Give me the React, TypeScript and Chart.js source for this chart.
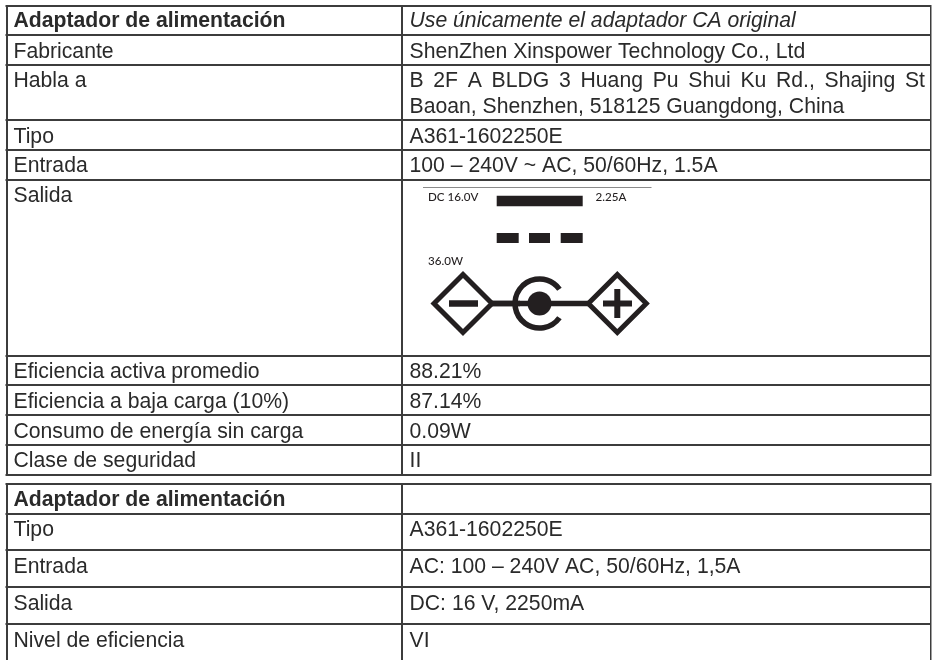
import React, { useEffect, useRef } from "react";
import { Chart, registerables } from "chart.js";

Chart.register(...registerables);

const columnEdges = [6.5, 402, 930.5];
const rowEdges = [6, 35, 65, 120, 150, 180, 356, 385, 415, 445, 475, 484, 514, 550, 587, 624];

const upperLabels = ["Fabricante", "Habla a", "Tipo", "Entrada", "Salida", "Eficiencia activa promedio", "Eficiencia a baja carga (10%)", "Consumo de energía sin carga", "Clase de seguridad"];
const upperValues = ["ShenZhen Xinspower Technology Co., Ltd", "B 2F A BLDG 3 Huang Pu Shui Ku Rd., Shajing St", "A361-1602250E", "100 – 240V ~ AC, 50/60Hz, 1.5A", "", "88.21%", "87.14%", "0.09W", "II"];
const upperBaselines = [58, 87, 143, 172, 202, 378, 408, 438, 467];

const lowerLabels = ["Tipo", "Entrada", "Salida", "Nivel de eficiencia"];
const lowerValues = ["A361-1602250E", "AC: 100 – 240V AC, 50/60Hz, 1,5A", "DC: 16 V, 2250mA", "VI"];
const lowerBaselines = [536, 573, 610, 647];

const titleLabel = "Adaptador de alimentación";
const titleNote = "Use únicamente el adaptador CA original";
const titleBaselines = [27, 506];
const addressSecondLine = "Baoan, Shenzhen, 518125 Guangdong, China";
const addressSecondBaseline = 113;

const ratingLabels = ["DC 16.0V", "2.25A", "36.0W"];
const ratingX = [428, 595.5, 428];
const ratingY = [201, 201, 265];

const INK = "#231f20";
const TEXT = "#2a2a2a";
const LINE = "#3c3c3c";

const seg = (x1: number, y1: number, x2: number, y2: number) => [{ x: x1, y: y1 }, { x: x2, y: y2 }];
const lineSet = (data: any[], width: number, color = INK) => ({
  type: "line" as const, data, borderColor: color, borderWidth: width,
  pointRadius: 0, showLine: true, fill: false, tension: 0, borderCapStyle: "butt" as const, order: 2,
});
const diamond = (x: number, y: number) => ({
  type: "scatter" as const, data: [{ x, y }], pointStyle: "rectRot" as const, pointRadius: 29,
  pointBackgroundColor: "#ffffff", pointBorderColor: INK, pointBorderWidth: 5, order: 1,
});

const ratingBar = seg(496.7, 201, 582.7, 201);
const ratingDashes = [seg(496.7, 238, 518.7, 238), seg(529, 238, 550, 238), seg(560.7, 238, 582.7, 238)];
const ratingRule = seg(423, 187.5, 651.5, 187.5);
const leadLine = seg(490, 303.5, 590, 303.5);
const leftLead = seg(490, 303.5, 520, 303.5);
const minusStroke = seg(449, 303.5, 478, 303.5);
const plusStrokes = [seg(603, 303.5, 632, 303.5), seg(617.3, 289, 617.3, 318)];
const plugDot = [{ x: 539.5, y: 303.5 }];
const plugRing = { x: 539.5, y: 303.5, r: 24.5 };
const diamondCentres = [[463, 303.5], [617.3, 303.5]];

const tablePlugin = {
  id: "tablePlugin",
  beforeDatasetsDraw(chart: any) {
    const { ctx, scales: { x, y } } = chart;
    ctx.save();
    ctx.fillStyle = "#ffffff";
    ctx.fillRect(0, 0, 934, y.getPixelForValue(rowEdges[0]) - 1);
    ctx.fillRect(0, y.getPixelForValue(475) + 1, 934, y.getPixelForValue(484) - y.getPixelForValue(475) - 2);
    ctx.fillRect(0, 0, x.getPixelForValue(columnEdges[0]) - 1, 660);
    ctx.fillRect(x.getPixelForValue(columnEdges[2]) + 1, 0, 10, 660);
    ctx.restore();
  },
  afterDatasetsDraw(chart: any) {
    const { ctx, scales: { x, y } } = chart;
    ctx.save();
    ctx.textAlign = "left";
    ctx.textBaseline = "alphabetic";
    const font = 21.2;
    const leftX = x.getPixelForValue(13.5);
    const rightX = x.getPixelForValue(409.5);
    const put = (s: string, px: number, v: number, f: string) => {
      ctx.font = f;
      ctx.fillText(s, px, y.getPixelForValue(v));
    };
    ctx.fillStyle = TEXT;
    const reg = `${font}px "Liberation Sans"`;
    titleBaselines.forEach((b) => put(titleLabel, leftX, b, `bold ${font}px "Liberation Sans"`));
    put(titleNote, rightX, titleBaselines[0], `italic ${font}px "Liberation Sans"`);
    upperLabels.forEach((s, i) => put(s, leftX, upperBaselines[i], reg));
    upperValues.forEach((s, i) => {
      ctx.font = reg;
      if (s.startsWith("B 2F")) {
        const words = s.split(" ");
        const natural = ctx.measureText(s).width;
        const extra = (925 - rightX - natural) / (words.length - 1);
        (ctx as any).wordSpacing = `${extra}px`;
        ctx.fillText(s, rightX, y.getPixelForValue(upperBaselines[i]));
        (ctx as any).wordSpacing = "0px";
      } else {
        put(s, rightX, upperBaselines[i], reg);
      }
    });
    put(addressSecondLine, rightX, addressSecondBaseline, reg);
    lowerLabels.forEach((s, i) => put(s, leftX, lowerBaselines[i], reg));
    lowerValues.forEach((s, i) => put(s, rightX, lowerBaselines[i], reg));

    ctx.fillStyle = INK;
    ratingLabels.forEach((s, i) => {
      ctx.font = `500 11.6px Lato`;
      ctx.fillText(s, x.getPixelForValue(ratingX[i]), y.getPixelForValue(ratingY[i]));
    });
    ctx.strokeStyle = INK;
    ctx.lineWidth = 5.5;
    ctx.beginPath();
    ctx.arc(x.getPixelForValue(plugRing.x), y.getPixelForValue(plugRing.y), plugRing.r, 0.62, Math.PI * 2 - 0.62);
    ctx.stroke();
    ctx.restore();
  },
};

export default function App() {
  const ref = useRef<HTMLCanvasElement | null>(null);
  useEffect(() => {
    document.body.style.margin = "0";
    const chart = new Chart(ref.current as HTMLCanvasElement, {
      type: "scatter",
      data: {
        datasets: [
          lineSet(ratingRule, 1, "#8a8a8a"),
          lineSet(ratingBar, 10.3),
          ...ratingDashes.map((d) => lineSet(d, 10)),
          lineSet(leadLine, 5.5),
          lineSet(leftLead, 5.5),
          diamond(diamondCentres[0][0], diamondCentres[0][1]),
          diamond(diamondCentres[1][0], diamondCentres[1][1]),
          { ...lineSet(minusStroke, 6.5), order: 0 },
          ...plusStrokes.map((d) => ({ ...lineSet(d, 6), order: 0 })),
          { type: "scatter" as const, data: plugDot, pointRadius: 12, pointBackgroundColor: INK, pointBorderWidth: 0, order: 0 },
        ] as any,
      },
      options: {
        animation: false,
        responsive: false,
        maintainAspectRatio: false,
        layout: { padding: 0, autoPadding: false },
        events: [],
        plugins: { legend: { display: false }, tooltip: { enabled: false }, title: { display: false } },
        scales: {
          x: {
            type: "linear", min: 0, max: 934,
            border: { display: false },
            grid: { color: LINE, lineWidth: 2, drawTicks: false },
            ticks: { display: false },
            afterBuildTicks: (s: any) => { s.ticks = columnEdges.map((value) => ({ value })); },
          },
          y: {
            type: "linear", min: 0, max: 660, reverse: true,
            border: { display: false },
            grid: { color: LINE, lineWidth: 2, drawTicks: false },
            ticks: { display: false },
            afterBuildTicks: (s: any) => { s.ticks = rowEdges.map((value) => ({ value })); },
          },
        },
      },
      plugins: [tablePlugin as any],
    });
    return () => chart.destroy();
  }, []);
  return <canvas ref={ref} width={934} height={660} style={{ display: "block" }} />;
}
